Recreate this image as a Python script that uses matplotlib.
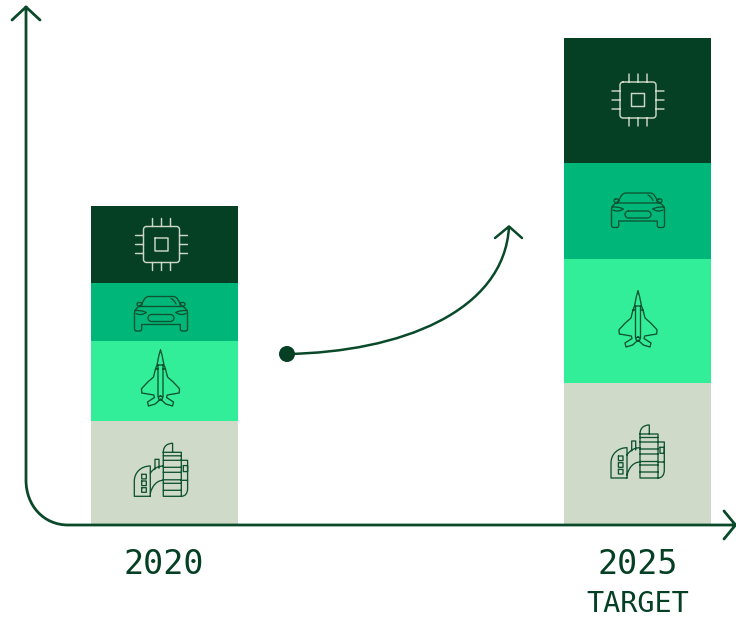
import matplotlib
matplotlib.use("Agg")
import matplotlib.pyplot as plt
from matplotlib.path import Path
from matplotlib.patches import PathPatch, Circle

# Stack heights per period, bottom segment first
years = ["2020", "2025"]
factory_share = [104, 142]
jet_share = [80, 124]
car_share = [58, 96]
chip_share = [77, 125]

DARK = "#053f24"
LINE = "#0a4a2a"
ICON = "#0f5232"
MID = "#00b678"
LIGHT = "#33ee98"
GREY = "#cfdbc8"
CHIP_LINE = "#cbd6c5"

M, L, C3 = Path.MOVETO, Path.LINETO, Path.CURVE4


def poly(*pts):
    return [(M, pts[0])] + [(L, p) for p in pts[1:]]


def rect(x0, y0, x1, y1):
    return poly((x0, y0), (x1, y0), (x1, y1), (x0, y1), (x0, y0))


def round_rect(x0, y0, x1, y1, r):
    k = r * 0.45
    return [(M, (x0 + r, y0)), (L, (x1 - r, y0)),
            (C3, (x1 - k, y0)), (C3, (x1, y0 + k)), (C3, (x1, y0 + r)),
            (L, (x1, y1 - r)),
            (C3, (x1, y1 - k)), (C3, (x1 - k, y1)), (C3, (x1 - r, y1)),
            (L, (x0 + r, y1)),
            (C3, (x0 + k, y1)), (C3, (x0, y1 - k)), (C3, (x0, y1 - r)),
            (L, (x0, y0 + r)),
            (C3, (x0, y0 + k)), (C3, (x0 + k, y0)), (C3, (x0 + r, y0))]


def curve(p0, c1, c2, p1):
    return [(M, p0), (C3, c1), (C3, c2), (C3, p1)]


def chip_icon():
    cmds = round_rect(-18, -18, 18, 18, 3) + rect(-6.5, -6.5, 6.5, 6.5)
    for d in (-9, 0, 9):
        cmds += poly((d, -26), (d, -18)) + poly((d, 18), (d, 26))
        cmds += poly((-26, d), (-18, d)) + poly((18, d), (26, d))
    return cmds


def car_icon():
    cmds = []
    cmds += poly((-22, -7), (22, -7))
    # cabin
    cmds += [(M, (-21, -7)), (C3, (-18, -11)), (C3, (-17, -17)), (C3, (-12, -17)),
             (L, (12, -17)), (C3, (17, -17)), (C3, (18, -11)), (C3, (21, -7))]
    cmds += curve((10, -15), (12, -14), (14, -12), (15, -9.5))
    # body shell
    cmds += [(M, (-22, -7)), (C3, (-25, -5)), (C3, (-26.5, -3)), (C3, (-26.5, 0)),
             (L, (-26.5, 15)), (C3, (-26.5, 17)), (C3, (-25.5, 17.5)), (C3, (-24, 17.5)),
             (L, (-21.5, 17.5)), (C3, (-20, 17.5)), (C3, (-19.3, 17)), (C3, (-19.3, 15)),
             (L, (-19.3, 11)), (L, (19.3, 11)), (L, (19.3, 15)),
             (C3, (19.3, 17)), (C3, (20, 17.5)), (C3, (21.5, 17.5)),
             (L, (24, 17.5)), (C3, (25.5, 17.5)), (C3, (26.5, 17)), (C3, (26.5, 15)),
             (L, (26.5, 0)), (C3, (26.5, -3)), (C3, (25, -5)), (C3, (22, -7))]
    cmds += round_rect(-13, 1, 13, 8, 3.5)
    # mirrors and headlights
    cmds += round_rect(-24, -11, -19, -7.5, 1.7) + round_rect(19, -11, 24, -7.5, 1.7)
    cmds += curve((-26, -3), (-22, -3), (-18, -3), (-15, -1))
    cmds += curve((-15, -1), (-18, 1.5), (-22, 1.5), (-25, 0))
    cmds += curve((26, -3), (22, -3), (18, -3), (15, -1))
    cmds += curve((15, -1), (18, 1.5), (22, 1.5), (25, 0))
    return cmds


def jet_icon():
    right = [(0, -28), (1.5, -23), (2.5, -18), (3.5, -13), (5, -9), (6, -5),
             (7, -1), (12.7, 4), (19, 10.7), (18.7, 15), (6.7, 17), (6, 19.5),
             (13, 24), (12, 28), (5.3, 26), (1, 22), (0, 21)]
    left = [(-x, y) for x, y in reversed(right[:-1])]
    cmds = poly(*(right + left))
    cmds += poly((-2.5, -13), (2.5, -13)) + poly((-2.5, -13), (-2.5, 19))
    cmds += poly((2.5, -13), (2.5, 19)) + round_rect(-2, 18, 2, 22, 2)
    cmds += poly((-5, -9), (-2.5, -9)) + poly((5, -9), (2.5, -9))
    return cmds


def factory_icon():
    cmds = []
    # left hall with its three windows
    cmds += [(M, (-11, 27)), (L, (-27, 27)), (L, (-27, 12)),
             (C3, (-27, 3)), (C3, (-20, -3.3)), (C3, (-11, -3.3)), (L, (-11, 27))]
    for wy in (7.3, 14, 20.7):
        cmds += rect(-19.6, wy - 2.3, -15, wy + 2.3)
    # tower and floors
    cmds += rect(2, -17, 20, 27)
    for fy in (-13.5, -9, -2, 3, 10.5, 14, 21):
        cmds += poly((2, fy), (20, fy))
    cmds += [(M, (2, -17)), (C3, (2, -23)), (C3, (6, -26)), (C3, (11.3, -26)),
             (L, (11.3, -17))]
    # chimney and arches
    cmds += poly((-6.3, 0), (-6.3, -10), (-2.3, -10), (-2.3, -1))
    cmds += curve((-11, 4), (-8, -1), (-3, -3.3), (2, -3.3))
    cmds += curve((-11, 24), (-9, 16), (-4, 11), (2, 11))
    # side annex
    cmds += [(M, (20, -9)), (L, (26.3, -9)), (L, (26.3, 19)),
             (C3, (26.3, 24)), (C3, (24, 27)), (C3, (20, 27))]
    cmds += rect(22, -3.7, 26.3, 2.3) + poly((20, 11), (26.3, 11))
    return cmds


def draw_icon(ax, cmds, cx, cy, color, lw=0.95):
    codes = [c for c, _ in cmds]
    verts = [(cx + p[0], cy + p[1]) for _, p in cmds]
    ax.add_patch(PathPatch(Path(verts, codes), fill=False, edgecolor=color,
                           lw=lw, capstyle="round", joinstyle="round", zorder=4))


fig = plt.figure(figsize=(7.36, 6.17), dpi=100)
fig.patch.set_facecolor("white")

# Stacked columns on a value scale, baseline at zero
ax = fig.add_axes([0, 0, 1, 1])
ax.set_xlim(-164.5 / 473, (736 - 164.5) / 473)
ax.set_ylim(-92, 525)
ax.axis("off")

x = range(len(years))
width = 147 / 473
bottom = [0, 0]
for values, color in zip([factory_share, jet_share, car_share, chip_share],
                         [GREY, LIGHT, MID, DARK]):
    ax.bar(x, values, width=width, bottom=bottom, color=color, linewidth=0)
    bottom = [b + v for b, v in zip(bottom, values)]

# Overlay in pixel units for axes, arrow, icons and labels
over = fig.add_axes([0, 0, 1, 1])
over.set_xlim(0, 736)
over.set_ylim(617, 0)
over.axis("off")
over.patch.set_alpha(0)

axis_path = [(M, (26, 7)), (L, (26, 480)),
             (C3, (26, 506)), (C3, (44, 525)), (C3, (68, 525)), (L, (735, 525))]
axis_path += poly((12, 20), (26, 7), (40, 20))
axis_path += poly((724, 511), (735.5, 525), (724, 539))
draw_icon(over, axis_path, 0, 0, LINE, lw=2.0)

arrow_path = curve((287, 354), (400, 352), (504, 312), (509, 227))
arrow_path += poly((495, 238), (509, 226.5), (522, 238))
draw_icon(over, arrow_path, 0, 0, LINE, lw=1.8)
over.add_patch(Circle((287, 354), 8, color=DARK, lw=0, zorder=5))

draw_icon(over, chip_icon(), 161.5, 244.5, CHIP_LINE, lw=1.05)
draw_icon(over, car_icon(), 161, 313.5, ICON)
draw_icon(over, jet_icon(), 160.5, 378, ICON)
draw_icon(over, factory_icon(), 161.3, 469.3, ICON)

draw_icon(over, chip_icon(), 638, 100, CHIP_LINE, lw=1.05)
draw_icon(over, car_icon(), 638, 210, ICON)
draw_icon(over, jet_icon(), 638, 319, ICON)
draw_icon(over, factory_icon(), 638, 451, ICON)

font = {"family": "DejaVu Sans Mono", "color": DARK, "ha": "center", "va": "baseline"}
over.text(164, 574, years[0], fontsize=24, **font)
over.text(637.5, 574, years[1], fontsize=24, **font)
over.text(637.5, 612, "TARGET", fontsize=20.5, **font)

fig.savefig("out.png", dpi=100, facecolor="white")
